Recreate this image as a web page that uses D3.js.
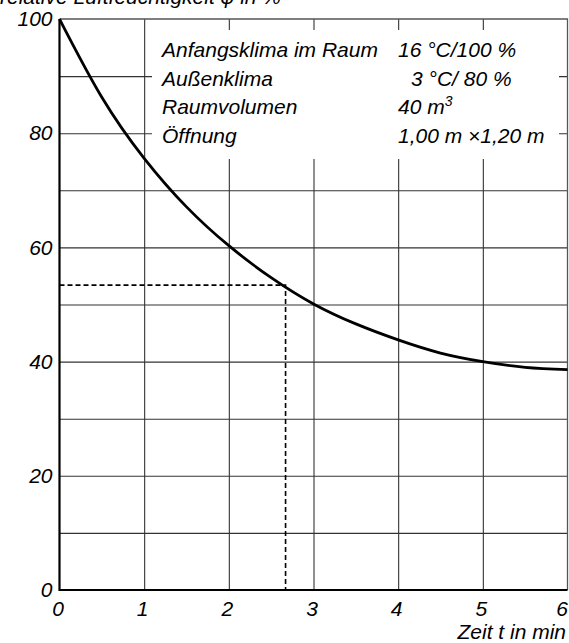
<!DOCTYPE html>
<html>
<head>
<meta charset="utf-8">
<script src="https://cdn.jsdelivr.net/npm/d3@7"></script>
<style>
html,body{margin:0;padding:0;background:#fff;}
svg{display:block;}
text{font-family:"Liberation Sans",Arial,sans-serif;font-style:italic;fill:#000;}
</style>
</head>
<body>
<div id="container"></div>
<script>
// time in minutes / relative humidity in %
var times = [0, 0.5, 1, 1.5, 2, 2.5, 3, 3.5, 4, 4.5, 5, 5.5, 6];
var humidity = [100, 86.3, 75.6, 67.1, 60.3, 54.7, 50.1, 46.6, 43.8, 41.5, 40.0, 39.0, 38.6];

var xTicks = [0, 1, 2, 3, 4, 5, 6];
var yTicks = [0, 20, 40, 60, 80, 100];
var yGrid = [10, 20, 30, 40, 50, 60, 70, 80, 90];

// reading marked with dashed lines
var markTime = [2.67];
var markValue = [53.4];

var legendLabels = ['Anfangsklima im Raum', 'Außenklima', 'Raumvolumen', 'Öffnung'];
var legendValues = ['16 °C/100 %', '3 °C/ 80 %', '40 m', '1,00 m \u00d71,20 m'];

var yTitle = 'relative Luftfeuchtigkeit \u03c6 in %';
var xTitle = 'Zeit t in min';

var W = 569, H = 643;
var pLeft = 59.5, pRight = 567.5, pTop = 19, pBottom = 590;

var svg = d3.select('#container').append('svg')
	.attr('width', W)
	.attr('height', H);

var x = d3.scaleLinear().domain([0, 6]).range([pLeft, pRight]);
var y = d3.scaleLinear().domain([0, 100]).range([pBottom, pTop]);

//grid
var gx = svg.append('g')
	.attr('transform', 'translate(0,' + pBottom + ')')
	.call(d3.axisBottom(x).tickValues([1, 2, 3, 4, 5]).tickSize(-(pBottom - pTop)).tickFormat(''));
var gy = svg.append('g')
	.attr('transform', 'translate(' + pLeft + ',0)')
	.call(d3.axisLeft(y).tickValues(yGrid).tickSize(-(pRight - pLeft)).tickFormat(''));
[gx, gy].forEach(function(g){
	g.select('.domain').remove();
	g.selectAll('.tick line').attr('stroke', '#333').attr('stroke-width', 1.1);
});

//frame: top + right thin
svg.append('path')
	.attr('d', 'M' + pLeft + ',' + pTop + 'H' + pRight + 'V' + pBottom)
	.attr('fill', 'none')
	.attr('stroke', '#555')
	.attr('stroke-width', 1.3);

//white box that hides the grid behind the legend
svg.append('rect')
	.attr('x', 152).attr('y', 30)
	.attr('width', 559 - 152).attr('height', 159 - 30)
	.attr('fill', '#fff');

//axes lines
svg.append('path')
	.attr('d', 'M' + pLeft + ',' + pTop + 'V' + pBottom + 'H' + pRight)
	.attr('fill', 'none')
	.attr('stroke', '#000')
	.attr('stroke-width', 2.2);

//tick labels
var ax = svg.append('g')
	.attr('transform', 'translate(0,' + pBottom + ')')
	.call(d3.axisBottom(x).tickValues(xTicks).tickSize(0).tickPadding(11).tickFormat(d3.format('d')));
ax.select('.domain').remove();
ax.selectAll('text').attr('font-size', 21).attr('dx', -2)
	.filter(function(d){ return d === 6; }).attr('text-anchor', 'end').attr('dx', 0);

var ay = svg.append('g')
	.attr('transform', 'translate(' + pLeft + ',0)')
	.call(d3.axisLeft(y).tickValues(yTicks).tickSize(0).tickPadding(7).tickFormat(d3.format('d')));
ay.select('.domain').remove();
ay.selectAll('text').attr('font-size', 21);

svg.selectAll('.tick text').attr('font-family', null);

//dashed reading lines
var mt = markTime[0], mv = markValue[0];
svg.append('path')
	.attr('d', 'M' + x(0) + ',' + y(mv) + 'H' + x(mt) + 'V' + y(0))
	.attr('fill', 'none')
	.attr('stroke', '#000')
	.attr('stroke-width', 1.6)
	.attr('stroke-dasharray', '5,3');

//curve
var pts = times.map(function(t, i){ return [t, humidity[i]]; });
var line = d3.line()
	.x(function(d){ return x(d[0]); })
	.y(function(d){ return y(d[1]); })
	.curve(d3.curveNatural);
svg.append('path')
	.datum(pts)
	.attr('d', line)
	.attr('fill', 'none')
	.attr('stroke', '#000')
	.attr('stroke-width', 2.8);

//legend
var rowY = [57, 85.5, 114, 142.5];
var lg = svg.append('g').attr('font-size', 21);
legendLabels.forEach(function(s, i){
	lg.append('text').attr('x', 162).attr('y', rowY[i]).text(s);
	var t = lg.append('text').attr('x', i === 1 ? 411 : 398).attr('y', rowY[i]).text(legendValues[i]);
	if (i === 2) {
		t.append('tspan').attr('dy', -8).attr('font-size', 14).text('3');
	}
});

//titles
svg.append('text')
	.attr('x', 0).attr('y', 4)
	.attr('font-size', 21)
	.text(yTitle);
svg.append('text')
	.attr('x', 566).attr('y', 639)
	.attr('text-anchor', 'end')
	.attr('font-size', 21)
	.text(xTitle);
</script>
</body>
</html>
